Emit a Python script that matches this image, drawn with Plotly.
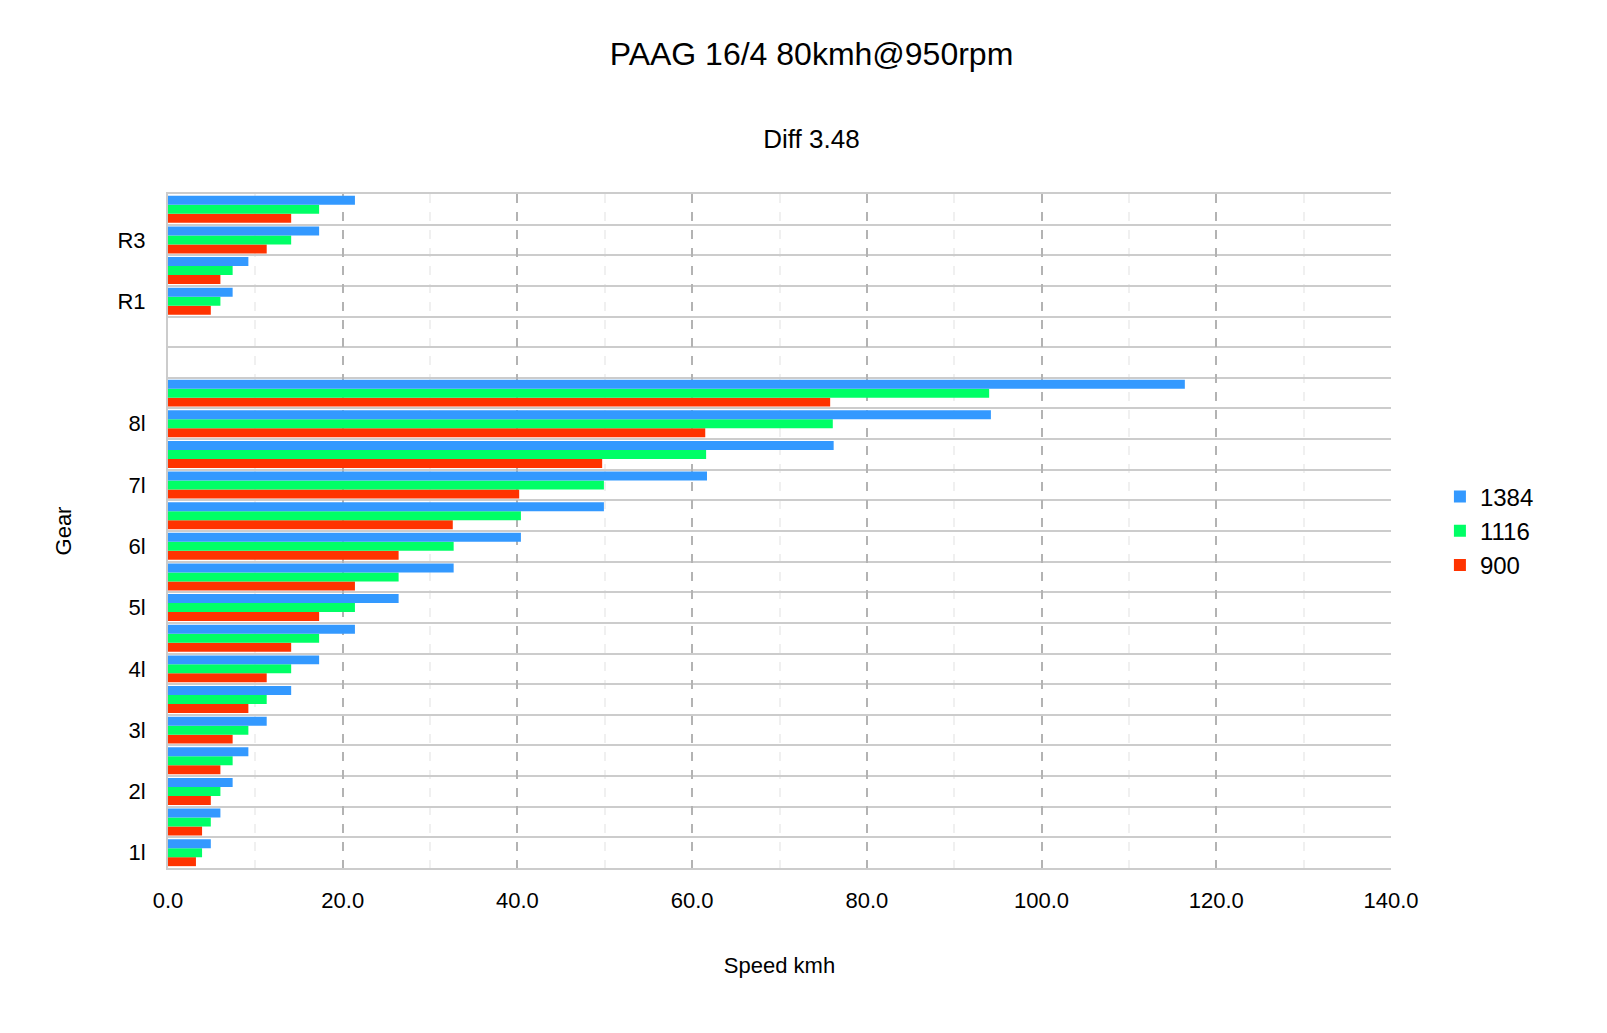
import plotly.graph_objects as go

gears = ["1l", "1h", "2l", "2h", "3l", "3h", "4l", "4h", "5l", "5h", "6l", "6h",
         "7l", "7h", "8l", "8h", "", "", "R1", "R2", "R3", "R4"]
shown = ["1l", "2l", "3l", "4l", "5l", "6l", "7l", "8l", "R1", "R3"]

s1384 = [4.9, 6.0, 7.4, 9.2, 11.3, 14.1, 17.3, 21.4, 26.4, 32.7, 40.4, 49.9, 61.7, 76.2, 94.2, 116.4,
         None, None, 7.4, 9.2, 17.3, 21.4]
s1116 = [3.9, 4.9, 6.0, 7.4, 9.2, 11.3, 14.1, 17.3, 21.4, 26.4, 32.7, 40.4, 49.9, 61.6, 76.1, 94.0,
         None, None, 6.0, 7.4, 14.1, 17.3]
s900 = [3.2, 3.9, 4.9, 6.0, 7.4, 9.2, 11.3, 14.1, 17.3, 21.4, 26.4, 32.6, 40.2, 49.7, 61.5, 75.8,
        None, None, 4.9, 6.0, 11.3, 14.1]

pos = list(range(len(gears)))
fig = go.Figure()
for name, vals, col in [("900", s900, "#ff3300"), ("1116", s1116, "#00ff66"), ("1384", s1384, "#3399ff")]:
    fig.add_trace(go.Bar(y=pos, x=vals, name=name, orientation="h", marker_color=col,
                         marker_line_width=0))

fig.update_layout(
    width=1607, height=1033, paper_bgcolor="white", plot_bgcolor="white",
    font=dict(family="Liberation Sans", size=22, color="black"),
    title=dict(text="PAAG 16/4 80kmh@950rpm<br><span style='font-size:26px'> <br>Diff 3.48</span>",
               x=0.5, xanchor="center", y=0.945, yanchor="top", font=dict(size=32)),
    barmode="group", bargap=0.12, bargroupgap=0,
    margin=dict(l=160, r=224, t=186, b=173),
    legend=dict(traceorder="reversed", x=1.04, y=0.5, yanchor="middle", font=dict(size=24)),
    xaxis=dict(range=[0, 140], dtick=20, tickformat=".1f", showgrid=True,
               gridcolor="#b3b3b3", griddash="dash", gridwidth=2,
               minor=dict(dtick=10, showgrid=True, gridcolor="#f0f0f0"),
               zeroline=False, showline=True, linecolor="#cccccc", linewidth=2, mirror=True,
               ticks="", ticklabelstandoff=12,
               title=dict(text="Speed kmh", font=dict(size=22), standoff=45)),
    yaxis=dict(range=[-0.5, len(gears) - 0.5], tickvals=[gears.index(g) for g in shown],
               ticktext=shown, showgrid=False, zeroline=False, ticks="", ticklabelstandoff=16,
               showline=True, linecolor="#cccccc", linewidth=2,
               minor=dict(tick0=0.5, dtick=1, showgrid=True, gridcolor="#cccccc", gridwidth=2),
               title=dict(text="Gear", font=dict(size=22), standoff=40)),
)
fig.write_html("out.html")
